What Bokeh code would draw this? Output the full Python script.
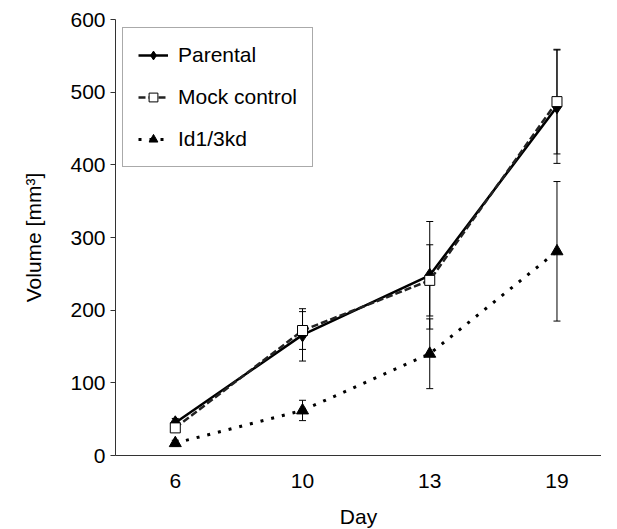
from bokeh.plotting import figure
from bokeh.models import (ColumnDataSource, Whisker, TeeHead, FixedTicker, Range1d,
                          Legend, LegendItem)
from bokeh.embed import file_html
from bokeh.resources import INLINE

days = ["6", "10", "13", "19"]
parental = [45, 166, 248, 480]
parental_err = [6, 36, 74, 78]
mock = [38, 172, 241, 487]
mock_err = [5, 26, 49, 72]
kd = [17, 62, 140, 281]
kd_err = [4, 14, 48, 96]
y_ticks = [0, 100, 200, 300, 400, 500, 600]

FONT = "Liberation Sans"
xs = [i + 0.5 for i in range(len(days))]

p = figure(width=601, height=530, output_backend="svg", toolbar_location=None,
           x_range=Range1d(0.03, 3.85), y_range=Range1d(0, 600),
           min_border_left=115, min_border_top=19, min_border_right=0, min_border_bottom=10)
p.outline_line_color = None
p.grid.visible = False
p.background_fill_color = "white"

def src(vals, errs):
    return ColumnDataSource(dict(x=xs, y=vals,
                                 upper=[v + e for v, e in zip(vals, errs)],
                                 lower=[v - e for v, e in zip(vals, errs)]))

s_par = src(parental, parental_err)
s_mock = src(mock, mock_err)
s_kd = src(kd, kd_err)

for s in (s_par, s_mock, s_kd):
    w = Whisker(source=s, base="x", upper="upper", lower="lower", dimension="height",
                line_color="black", line_width=1,
                upper_head=TeeHead(size=7, line_color="black", line_width=1),
                lower_head=TeeHead(size=7, line_color="black", line_width=1))
    p.add_layout(w)

l1 = p.line("x", "y", source=s_par, line_color="black", line_width=2.5)
m1 = p.scatter("x", "y", source=s_par, marker="diamond", size=14, fill_color="black",
               line_color="black")
l2 = p.line("x", "y", source=s_mock, line_color="#222222", line_width=2.5, line_dash="7 3")
m2 = p.scatter("x", "y", source=s_mock, marker="square", size=10, fill_color="white",
               line_color="black", line_width=1)
l3 = p.line("x", "y", source=s_kd, line_color="black", line_width=3, line_dash="3 8")
m3 = p.scatter("x", "y", source=s_kd, marker="triangle", size=12, fill_color="black",
               line_color="black")

legend = Legend(items=[LegendItem(label="Parental", renderers=[l1, m1]),
                       LegendItem(label="Mock control", renderers=[l2, m2]),
                       LegendItem(label="Id1/3kd", renderers=[l3, m3])],
                location=(7, 288), orientation="vertical",
                border_line_color="#555555", border_line_width=1,
                background_fill_alpha=1, padding=15, spacing=18, margin=0,
                glyph_width=30, glyph_height=22, label_height=22, label_standoff=10,
                label_text_font=FONT, label_text_font_size="21px", label_text_color="black")
p.add_layout(legend, "center")

p.xaxis.ticker = FixedTicker(ticks=xs)
p.xaxis.major_label_overrides = {x: d for x, d in zip(xs, days)}
p.yaxis.ticker = FixedTicker(ticks=y_ticks)
for ax in (p.xaxis, p.yaxis):
    ax.axis_line_color = "#333333"
    ax.axis_line_width = 1
    ax.minor_tick_line_color = None
    ax.major_tick_line_color = "#333333"
    ax.major_label_text_font = FONT
    ax.major_label_text_font_size = "21px"
    ax.major_label_text_color = "black"
    ax.axis_label_text_font = FONT
    ax.axis_label_text_font_size = "21px"
    ax.axis_label_text_font_style = "normal"
    ax.axis_label_text_color = "black"
p.xaxis.major_tick_out = 0
p.xaxis.major_tick_in = 0
p.xaxis.major_label_standoff = 18
p.xaxis.axis_label = "Day"
p.xaxis.axis_label_standoff = 14
p.yaxis.major_tick_out = 5
p.yaxis.major_tick_in = 0
p.yaxis.major_label_standoff = 5
p.yaxis.axis_label = "Volume [mm³]"
p.yaxis.axis_label_standoff = 22

open("out.html", "w").write(file_html(p, INLINE))
